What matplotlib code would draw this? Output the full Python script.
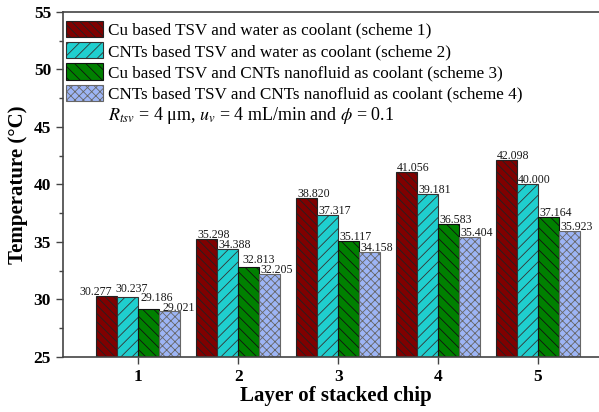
import numpy as np
import matplotlib
matplotlib.use("Agg")
import matplotlib.pyplot as plt

plt.rcParams['font.family'] = ['Liberation Serif', 'DejaVu Serif']
plt.rcParams['mathtext.fontset'] = 'stix'
plt.rcParams['hatch.linewidth'] = 0.6

layers = [1, 2, 3, 4, 5]
scheme1 = [30.277, 35.298, 38.820, 41.056, 42.098]
scheme2 = [30.237, 34.388, 37.317, 39.181, 40.000]
scheme3 = [29.186, 32.813, 35.117, 36.583, 37.164]
scheme4 = [29.021, 32.205, 34.158, 35.404, 35.923]
labels = ["Cu based TSV and water as coolant (scheme 1)",
          "CNTs based TSV and water as coolant (scheme 2)",
          "Cu based TSV and CNTs nanofluid as coolant (scheme 3)",
          "CNTs based TSV and CNTs nanofluid as coolant (scheme 4)"]

colors = ['#800000', '#1FCFCF', '#008000', '#9DB5F5']
hatches = ['\\\\\\\\', '///', '\\\\\\', 'xxxx']
edges = ['#222222', '#333333', '#111111', '#666666']

# hand nudges (pixels) for value labels that would collide: (series, layer) -> (dx, dy)
nudge = {(0, 0): (-17, 1), (1, 0): (-2, 4.5), (2, 0): (2.5, 8), (3, 0): (3, 0),
         (2, 1): (4.5, 4.5)}

fig = plt.figure(figsize=(5.99, 4.12), dpi=100)
ax = fig.add_axes([0.105, 0.1335, 0.9, 0.8375])

x = np.array(layers, dtype=float)
w = 0.21
data = [scheme1, scheme2, scheme3, scheme4]
for i, vals in enumerate(data):
    xs = x + (i - 1.5) * w
    ax.bar(xs, np.array(vals) - 25, width=w, bottom=25, color=colors[i],
           hatch=hatches[i], edgecolor=edges[i], linewidth=0.8, label=labels[i])
    for j, v in enumerate(vals):
        dx, dy = nudge.get((i, j), (1, 1))
        ax.annotate("%.3f" % v, (xs[j] - w / 2, v), xytext=(dx * 0.72, dy * 0.72),
                    textcoords='offset points', ha='left', va='baseline',
                    fontsize=8.6, color='#1a1a1a')

ax.set_xlim(0.245, 5.64)
ax.set_ylim(25, 55)
ax.set_xticks(layers)
ax.set_yticks(np.arange(25, 56, 5))
ax.set_yticks(np.arange(25, 55, 2.5), minor=True)
ax.tick_params(axis='both', which='both', direction='out', width=1.0, color='#444444')
ax.tick_params(axis='both', which='major', length=5, labelsize=12.5)
ax.tick_params(axis='y', which='minor', length=3)
ax.tick_params(axis='x', which='minor', length=0)
for t in ax.get_xticklabels() + ax.get_yticklabels():
    t.set_fontweight('bold')
for s in ['left', 'bottom', 'top']:
    ax.spines[s].set_linewidth(1.2)
    ax.spines[s].set_color('#444444')
ax.spines['right'].set_visible(False)

ax.set_xlabel("Layer of stacked chip", fontsize=15, fontweight='bold', labelpad=2)
ax.xaxis.set_label_coords(0.507, -0.085)
ax.set_ylabel("Temperature (\u00b0C)", fontsize=15, fontweight='bold', labelpad=4)

leg = ax.legend(loc='upper left', bbox_to_anchor=(0.005, 0.975), frameon=False,
                fontsize=12.35, handlelength=2.2, handleheight=1.1,
                labelspacing=0.19, handletextpad=0.25, borderaxespad=0.0, borderpad=0.0)

ax.text(0.084, 0.701, "$R_{tsv}$ = 4 \u03bcm, $u_v$ = 4 mL/min and $\\phi$ = 0.1",
        transform=ax.transAxes, fontsize=13.0, ha='left', va='center')

fig.savefig("out.png", dpi=100)
